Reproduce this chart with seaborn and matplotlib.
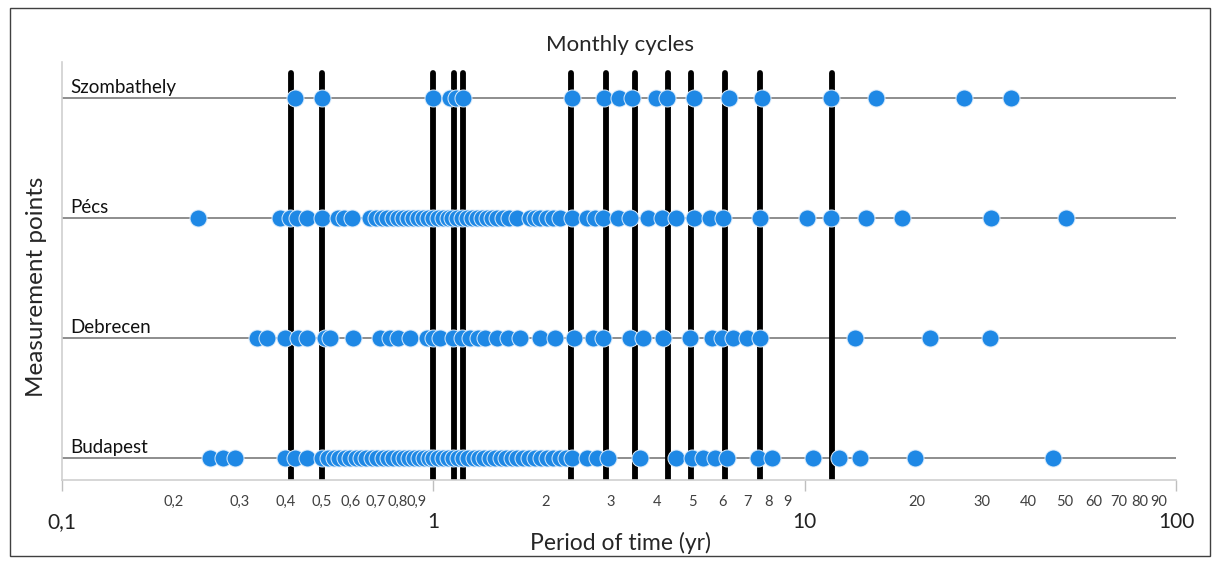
import matplotlib
matplotlib.use("Agg")
import matplotlib.pyplot as plt
from matplotlib.patches import Rectangle
import pandas as pd
import seaborn as sns

# periods (yr) of the detected cycles
stations = ["Budapest", "Debrecen", "Pécs", "Szombathely"]

budapest = [0.251, 0.272, 0.293, 0.399, 0.425, 0.458, 0.502, 0.522, 0.541, 0.558,
            0.579, 0.598, 0.620, 0.640, 0.660, 0.685, 0.707, 0.733, 0.756, 0.780,
            0.810, 0.835, 0.862, 0.889, 0.917, 0.946, 0.975, 1.0, 1.032, 1.064,
            1.098, 1.132, 1.168, 1.205, 1.243, 1.289, 1.330, 1.372, 1.424, 1.469,
            1.525, 1.573, 1.632, 1.684, 1.748, 1.814, 1.882, 1.954, 2.028, 2.105,
            2.198, 2.281, 2.368, 2.598, 2.765, 2.96, 3.61, 4.51, 4.98, 5.34,
            5.75, 6.19, 7.5, 8.19, 10.55, 12.4, 14.13, 19.87, 46.5]

debrecen = [0.336, 0.357, 0.399, 0.433, 0.458, 0.512, 0.528, 0.609, 0.720, 0.766,
            0.805, 0.867, 0.963, 1.0, 1.044, 1.132, 1.197, 1.258, 1.322, 1.380,
            1.487, 1.592, 1.715, 1.942, 2.131, 2.398, 2.697, 2.87, 3.39, 3.66,
            4.16, 4.92, 5.64, 6.0, 6.43, 7.01, 7.6, 13.69, 21.8, 31.6]

pecs = [0.233, 0.387, 0.412, 0.430, 0.458, 0.502, 0.555, 0.576, 0.605, 0.677,
        0.702, 0.729, 0.752, 0.780, 0.805, 0.830, 0.856, 0.884, 0.911, 0.940,
        0.969, 1.0, 1.032, 1.064, 1.098, 1.125, 1.160, 1.197, 1.235, 1.274,
        1.314, 1.355, 1.398, 1.442, 1.487, 1.543, 1.602, 1.684, 1.825, 1.882,
        1.942, 2.028, 2.105, 2.198, 2.368, 2.598, 2.731, 2.87, 3.15, 3.39,
        3.79, 4.14, 4.49, 5.02, 5.57, 6.04, 7.6, 10.17, 11.8, 14.66,
        18.33, 31.8, 50.4]

szombathely = [0.425, 0.502, 1.0, 1.111, 1.153, 1.205, 2.37, 2.89, 3.17, 3.42,
               3.99, 4.27, 5.02, 6.27, 7.69, 11.8, 15.6, 26.8, 36.0]

cycle_lines = [0.414, 0.5, 1.0, 1.137, 1.2, 2.35, 2.92, 3.49, 4.29, 4.94, 6.1, 7.59, 11.85]

major_ticks = [0.1, 1, 10, 100]
major_labels = ["0,1", "1", "10", "100"]
minor_ticks = [0.2, 0.3, 0.4, 0.5, 0.6, 0.7, 0.8, 0.9,
               2, 3, 4, 5, 6, 7, 8, 9,
               20, 30, 40, 50, 60, 70, 80, 90]
minor_labels = ["0,2", "0,3", "0,4", "0,5", "0,6", "0,7", "0,8", "0,9",
                "2", "3", "4", "5", "6", "7", "8", "9",
                "20", "30", "40", "50", "60", "70", "80", "90"]

sns.set_style("white")
plt.rcParams["font.family"] = ["Lato", "DejaVu Sans"]

rows = []
for i, (name, vals) in enumerate(zip(stations, [budapest, debrecen, pecs, szombathely])):
    for v in vals:
        rows.append({"station": name, "period": v, "row": i + 1})
df = pd.DataFrame(rows)

W, H = 1219, 564
fig = plt.figure(figsize=(W / 100, H / 100), dpi=100)
ax = fig.add_axes([62 / W, 1 - 480 / H, (1176 - 62) / W, 418 / H])

for i in range(len(stations)):
    ax.axhline(i + 1, color="#6f6f6f", lw=1.1, zorder=1)
ax.vlines(cycle_lines, 0.817, 4.21, color="black", lw=4.2, zorder=2, capstyle="round")

sns.scatterplot(data=df, x="period", y="row", color="#1E88E5", s=150,
                edgecolor="#dcecfb", linewidth=0.7, zorder=3, ax=ax, legend=False)

ax.set_xscale("log")
ax.set_xlim(0.1, 100)
ax.set_ylim(0.817, 4.3)

ax.set_xticks(major_ticks)
ax.set_xticklabels(major_labels, fontsize=15, color="#222222")
ax.set_xticks(minor_ticks, minor=True)
ax.set_xticklabels(minor_labels, minor=True, fontsize=10.5, color="#404040")
ax.tick_params(axis="x", which="major", bottom=True, length=8, width=1,
               color="#bfbfbf", pad=15, direction="out")
ax.tick_params(axis="x", which="minor", bottom=True, length=0, pad=11)
ax.set_yticks([])
ax.set_xlabel("")
ax.set_ylabel("")

for side in ["top", "right"]:
    ax.spines[side].set_visible(False)
for side in ["bottom", "left"]:
    ax.spines[side].set_color("#d0d0d0")
    ax.spines[side].set_linewidth(1.2)

for i, name in enumerate(stations):
    ax.text(0.1055, i + 1 + 0.02, name, fontsize=13.5, ha="left", va="bottom", color="#111111")

fig.text(620 / W, 1 - 45 / H, "Monthly cycles", ha="center", va="center", fontsize=16)
fig.text(620 / W, 1 - 543 / H, "Period of time (yr)", ha="center", va="center", fontsize=16.5)
fig.text(37 / W, 1 - 287 / H, "Measurement points", ha="center", va="center",
         rotation=90, fontsize=17.5)

fig.patches.append(Rectangle((10 / W, 1 - 556 / H), 1200 / W, 548 / H,
                             transform=fig.transFigure, fill=False,
                             edgecolor="#404040", lw=1))

fig.savefig("out.png", dpi=100)
